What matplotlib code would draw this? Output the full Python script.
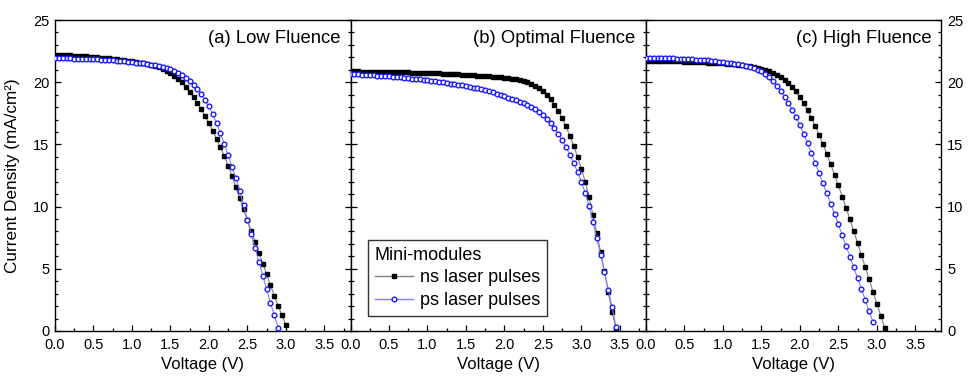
import numpy as np
import matplotlib.pyplot as plt
from matplotlib.ticker import MultipleLocator
from matplotlib.lines import Line2D

plt.rcParams['font.family'] = ['Liberation Sans', 'DejaVu Sans']

# 电压步长 0.05 V，各曲线电流密度 (mA/cm^2)
v_step = 0.05

# (a) Low Fluence
a_ns = [22.20, 22.19, 22.18, 22.16, 22.15, 22.13, 22.11, 22.09, 22.07, 22.05,
        22.03, 22.00, 21.97, 21.94, 21.91, 21.88, 21.84, 21.80, 21.76, 21.72,
        21.67, 21.62, 21.57, 21.51, 21.45, 21.38, 21.30, 21.20, 21.08, 20.92,
        20.74, 20.52, 20.27, 19.98, 19.64, 19.24, 18.80, 18.32, 17.82, 17.28,
        16.71, 16.10, 15.45, 14.77, 14.06, 13.30, 12.46, 11.56, 10.66, 9.78,
        8.92, 8.05, 7.18, 6.30, 5.42, 4.55, 3.68, 2.84, 2.02, 1.25,
        0.48]
a_ps = [21.95, 21.94, 21.93, 21.92, 21.91, 21.90, 21.89, 21.88, 21.87, 21.86,
        21.85, 21.83, 21.81, 21.79, 21.77, 21.75, 21.72, 21.70, 21.67, 21.64,
        21.61, 21.58, 21.55, 21.51, 21.47, 21.42, 21.37, 21.31, 21.24, 21.16,
        21.06, 20.93, 20.77, 20.57, 20.33, 20.06, 19.77, 19.45, 19.07, 18.60,
        18.05, 17.42, 16.70, 15.90, 15.03, 14.13, 13.22, 12.28, 11.28, 10.10,
        8.95, 7.80, 6.68, 5.55, 4.45, 3.35, 2.25, 1.28, 0.27]

# (b) Optimal Fluence
b_ns = [20.88, 20.87, 20.87, 20.86, 20.86, 20.85, 20.85, 20.84, 20.83, 20.83,
        20.82, 20.81, 20.80, 20.80, 20.79, 20.78, 20.77, 20.76, 20.76, 20.75,
        20.74, 20.73, 20.72, 20.71, 20.69, 20.68, 20.66, 20.65, 20.63, 20.61,
        20.59, 20.57, 20.55, 20.53, 20.51, 20.49, 20.46, 20.44, 20.41, 20.38,
        20.35, 20.32, 20.28, 20.23, 20.17, 20.09, 19.99, 19.87, 19.72, 19.53,
        19.29, 18.99, 18.63, 18.20, 17.70, 17.12, 16.45, 15.70, 14.88, 14.00,
        13.05, 12.00, 10.75, 9.35, 7.85, 6.35, 4.80, 3.10, 1.52, 0.20]
b_ps = [20.66, 20.64, 20.62, 20.61, 20.59, 20.57, 20.55, 20.53, 20.51, 20.48,
        20.46, 20.43, 20.41, 20.38, 20.35, 20.32, 20.29, 20.26, 20.22, 20.19,
        20.15, 20.11, 20.07, 20.03, 19.99, 19.94, 19.89, 19.84, 19.79, 19.74,
        19.68, 19.62, 19.56, 19.50, 19.43, 19.35, 19.27, 19.18, 19.09, 18.99,
        18.88, 18.77, 18.66, 18.55, 18.43, 18.30, 18.15, 18.00, 17.82, 17.60,
        17.35, 17.05, 16.70, 16.30, 15.85, 15.35, 14.80, 14.18, 13.50, 12.80,
        12.00, 11.10, 10.02, 8.78, 7.48, 6.12, 4.75, 3.30, 1.90, 0.35]

# (c) High Fluence
c_ns = [21.72, 21.72, 21.71, 21.71, 21.70, 21.70, 21.69, 21.68, 21.68, 21.67,
        21.66, 21.65, 21.64, 21.63, 21.62, 21.60, 21.58, 21.57, 21.55, 21.53,
        21.51, 21.49, 21.46, 21.43, 21.40, 21.37, 21.33, 21.29, 21.24, 21.18,
        21.10, 21.00, 20.88, 20.75, 20.60, 20.42, 20.20, 19.95, 19.65, 19.27,
        18.82, 18.30, 17.73, 17.12, 16.47, 15.78, 15.02, 14.22, 13.40, 12.56,
        11.70, 10.80, 9.90, 8.98, 8.04, 7.06, 6.08, 5.12, 4.15, 3.15,
        2.20, 1.24, 0.27]
c_ps = [21.97, 21.96, 21.96, 21.95, 21.94, 21.93, 21.92, 21.91, 21.90, 21.88,
        21.87, 21.85, 21.83, 21.81, 21.79, 21.77, 21.75, 21.72, 21.69, 21.66,
        21.62, 21.58, 21.54, 21.49, 21.44, 21.38, 21.31, 21.23, 21.14, 21.02,
        20.87, 20.66, 20.40, 20.08, 19.72, 19.30, 18.84, 18.34, 17.80, 17.20,
        16.55, 15.84, 15.08, 14.30, 13.50, 12.70, 11.88, 11.07, 10.22, 9.40,
        8.57, 7.70, 6.84, 5.98, 5.12, 4.24, 3.38, 2.50, 1.58, 0.70]

titles = ['(a) Low Fluence', '(b) Optimal Fluence', '(c) High Fluence']
series = [(a_ns, a_ps), (b_ns, b_ps), (c_ns, c_ps)]

line_ns = '#808080'
line_ps = '#7f7fff'
col_ps = '#1a1aff'

fig = plt.figure(figsize=(9.68, 3.76), dpi=100)
left, bottom, w, h = 55 / 968, 45 / 376, 295.5 / 968, 311 / 376

axes = []
for i, (ns, ps) in enumerate(series):
    ax = fig.add_axes([left + i * w, bottom, w, h])
    axes.append(ax)
    v_ns = np.arange(len(ns)) * v_step
    v_ps = np.arange(len(ps)) * v_step
    ax.plot(v_ns, ns, '-', color=line_ns, lw=0.8, marker='s', ms=3.4,
            mfc='black', mec='black', zorder=3)
    ax.plot(v_ps, ps, '-', color=line_ps, lw=0.8, marker='o', ms=3.4,
            mfc='white', mec=col_ps, mew=1.0, zorder=4)

    ax.set_xlim(0, 3.84)
    ax.set_ylim(0, 25)
    ax.xaxis.set_major_locator(MultipleLocator(0.5))
    ax.xaxis.set_minor_locator(MultipleLocator(0.25))
    ax.yaxis.set_major_locator(MultipleLocator(5))
    ax.yaxis.set_minor_locator(MultipleLocator(1))
    ax.tick_params(which='both', direction='in', left=True, right=True,
                   top=False, labelsize=10.5, width=0.9)
    ax.tick_params(which='major', length=4.5)
    ax.tick_params(which='minor', length=2.5)
    ax.tick_params(axis='x', which='major', pad=5)
    ax.tick_params(axis='y', which='major', pad=4)
    ax.xaxis.set_major_formatter(plt.FormatStrFormatter('%.1f'))
    for s in ax.spines.values():
        s.set_linewidth(1.0)
    ax.set_xlabel('Voltage (V)', fontsize=12, labelpad=4)
    ax.text(0.965, 0.94, titles[i], transform=ax.transAxes, ha='right',
            va='center', fontsize=13.3)

axes[0].tick_params(labelleft=True, labelright=False)
axes[1].tick_params(labelleft=False, labelright=False)
axes[2].tick_params(labelleft=False, labelright=True)
axes[0].set_ylabel('Current Density (mA/cm²)', fontsize=12.3)
axes[0].yaxis.set_label_coords(-0.118, 0.5)

handles = [
    Line2D([0], [0], color=line_ns, lw=1.0, marker='s', ms=3.4,
           mfc='black', mec='black', label='ns laser pulses'),
    Line2D([0], [0], color=line_ps, lw=1.0, marker='o', ms=3.4,
           mfc='white', mec=col_ps, mew=1.0, label='ps laser pulses'),
]
leg = axes[1].legend(handles=handles, title='Mini-modules', loc='lower left',
                     bbox_to_anchor=(0.058, 0.048), fontsize=13,
                     title_fontsize=13, frameon=True, fancybox=False,
                     edgecolor='black', handlelength=2.1, handletextpad=0.4,
                     borderpad=0.4, labelspacing=0.3, borderaxespad=0)
leg._legend_box.align = 'left'
leg.get_frame().set_linewidth(1.0)

fig.savefig('out.png', dpi=100)
